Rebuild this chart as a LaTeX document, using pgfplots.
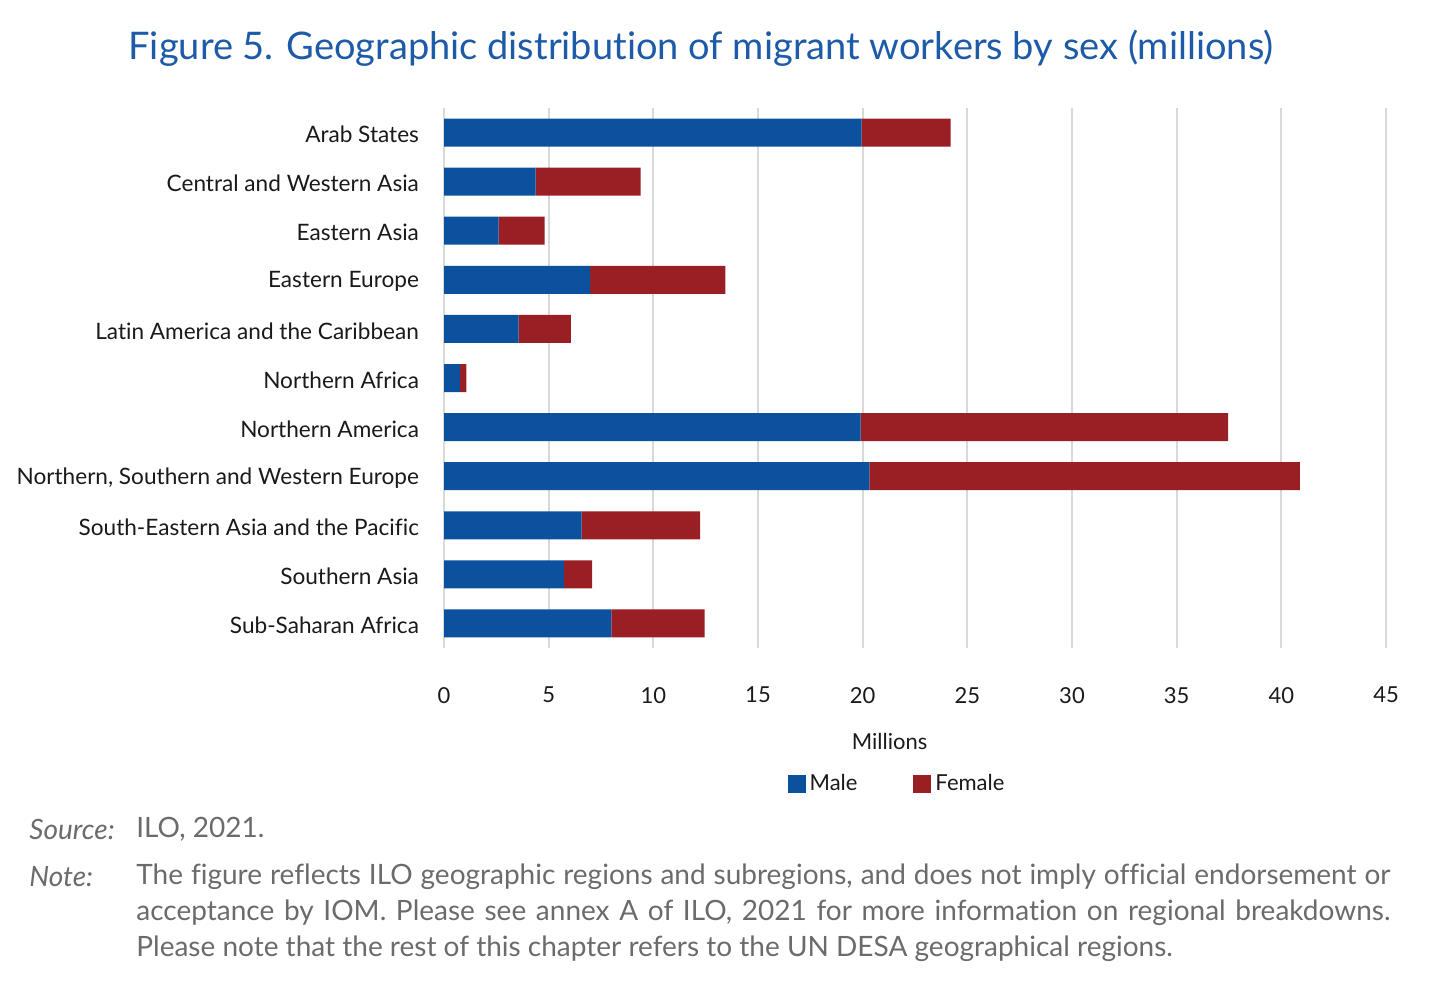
\documentclass[border=0pt]{standalone}
\usepackage{pgfplots}
\pgfplotsset{compat=1.18}
\usepackage{fontspec}
\setmainfont{Lato}[Ligatures=NoCommon]
\definecolor{mblue}{HTML}{0C519E}
\definecolor{fred}{HTML}{9A1F24}
\definecolor{ttl}{HTML}{1D5AA8}
\definecolor{txt}{HTML}{1A1A1A}
\definecolor{gr}{HTML}{D9D9D9}
\definecolor{notec}{HTML}{6B6B6B}
\pgfplotstableread{
idx male female
0 19.95 4.25
1 4.38 5.01
2 2.61 2.20
3 6.98 6.46
4 3.57 2.49
5 0.76 0.31
6 19.90 17.56
7 20.32 20.56
8 6.58 5.65
9 5.73 1.34
10 8.00 4.45
}\datatable
\begin{document}
\begin{tikzpicture}
\useasboundingbox (0,0) rectangle (725pt,-501.5pt);
\node[text=ttl, font=\fontsize{19}{21}\selectfont] at (350.5pt,-24pt) {Figure 5. Geographic distribution of migrant workers by sex (millions)};
\begin{axis}[
  at={(222pt,-324pt)}, anchor=south west,
  scale only axis, width=471pt, height=270pt,
  xbar stacked, bar width=14pt,
  xmin=0, xmax=45, ymin=-0.5, ymax=10.5, y dir=reverse,
  ytick={0,...,10},
  yticklabels={Arab States, Central and Western Asia, Eastern Asia, Eastern Europe, Latin America and the Caribbean, Northern Africa, Northern America, {Northern, Southern and Western Europe}, South-Eastern Asia and the Pacific, Southern Asia, Sub-Saharan Africa},
  xtick={0,5,...,45},
  xmajorgrids, grid style={gr, line width=1pt},
  axis line style={draw=none}, major tick style={draw=none},
  tick label style={font=\fontsize{11}{13}\selectfont, text=txt},
  yticklabel style={font=\fontsize{11.3}{13}\selectfont, xshift=-9pt, yshift=-1pt},
  /pgf/number format/assume math mode=true,
  xticklabel style={yshift=-16pt},
  xlabel={Millions},
  xlabel style={at={(axis description cs:0.473,-0.174)}, anchor=center, font=\fontsize{11}{13}\selectfont, text=txt},
  legend style={at={(axis description cs:0.482,-0.252)}, anchor=center, draw=none, legend columns=2, font=\fontsize{11}{13}\selectfont, text=txt,
    /tikz/every even column/.append style={column sep=26pt}},
  legend cell align=left,
  legend image code/.code={\fill[#1] (0pt,-4.5pt) rectangle (9pt,4.5pt);},
]
\addplot[fill=mblue, draw=none] table[x=male, y=idx] {\datatable};
\addplot[fill=fred, draw=none] table[x=female, y=idx] {\datatable};
\legend{Male, Female}
\end{axis}
\begin{scope}[every node/.style={anchor=west, text=notec, inner sep=0pt, font=\fontsize{14}{16}\selectfont}]
\node[font=\fontsize{14}{16}\selectfont\itshape] at (14.5pt,-414.5pt) {Source:};
\node at (68pt,-414.5pt) {ILO, 2021.};
\node[font=\fontsize{14}{16}\selectfont\itshape] at (14.5pt,-438.5pt) {Note:};
\node at (68pt,-438.5pt) {\makebox[627pt][s]{The figure reflects ILO geographic regions and subregions, and does not imply official endorsement or}};
\node at (68pt,-456.5pt) {\makebox[627pt][s]{acceptance by IOM. Please see annex A of ILO, 2021 for more information on regional breakdowns.}};
\node at (68pt,-474.5pt) {Please note that the rest of this chapter refers to the UN DESA geographical regions.};
\end{scope}
\end{tikzpicture}
\end{document}
